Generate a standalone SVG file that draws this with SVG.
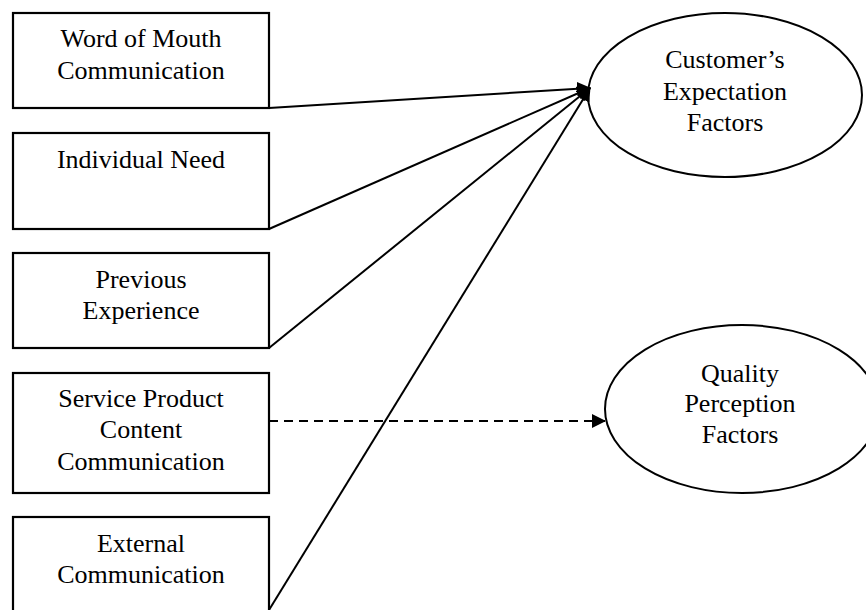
<svg xmlns="http://www.w3.org/2000/svg" width="866" height="610" viewBox="0 0 866 610">
  <style>
    .box { fill: #fff; stroke: #000; stroke-width: 2.2; }
    .oval { fill: #fff; stroke: #000; stroke-width: 2; }
    .lbl { font-family: "Liberation Serif", "Times New Roman", serif; font-size: 26px; fill: #000; text-anchor: middle; }
    .link { fill: none; stroke: #000; stroke-width: 2; }
  </style>
  <defs>
    <marker id="arrow" viewBox="0 0 14 14" refX="13" refY="7" markerWidth="14" markerHeight="14" markerUnits="userSpaceOnUse" orient="auto">
      <path d="M0,0 L14,7 L0,14 Z" fill="#000"/>
    </marker>
  </defs>
  <rect width="866" height="610" fill="#fff"/>

  <g id="node-word-of-mouth">
    <rect class="box" x="13" y="13" width="256" height="95"/>
    <text class="lbl" x="141" y="47">Word of Mouth</text>
    <text class="lbl" x="141" y="79">Communication</text>
  </g>
  <g id="node-individual-need">
    <rect class="box" x="13" y="133" width="256" height="96"/>
    <text class="lbl" x="141" y="168">Individual Need</text>
  </g>
  <g id="node-previous-experience">
    <rect class="box" x="13" y="253" width="256" height="95"/>
    <text class="lbl" x="141" y="288">Previous</text>
    <text class="lbl" x="141" y="319">Experience</text>
  </g>
  <g id="node-service-product">
    <rect class="box" x="13" y="373" width="256" height="120"/>
    <text class="lbl" x="141" y="407">Service Product</text>
    <text class="lbl" x="141" y="438">Content</text>
    <text class="lbl" x="141" y="470">Communication</text>
  </g>
  <g id="node-external">
    <rect class="box" x="13" y="517" width="256" height="100"/>
    <text class="lbl" x="141" y="552">External</text>
    <text class="lbl" x="141" y="583">Communication</text>
  </g>

  <g id="node-expectation">
    <ellipse class="oval" cx="725" cy="95" rx="137" ry="82"/>
    <text class="lbl" x="725" y="68">Customer’s</text>
    <text class="lbl" x="725" y="100">Expectation</text>
    <text class="lbl" x="725" y="131">Factors</text>
  </g>
  <g id="node-quality">
    <ellipse class="oval" cx="742" cy="409" rx="137" ry="84"/>
    <text class="lbl" x="740" y="382">Quality</text>
    <text class="lbl" x="740" y="412">Perception</text>
    <text class="lbl" x="740" y="443">Factors</text>
  </g>

  <g id="connectors">
    <line class="link" x1="269" y1="108" x2="590" y2="88" marker-end="url(#arrow)"/>
    <line class="link" x1="269" y1="229" x2="590" y2="88" marker-end="url(#arrow)"/>
    <line class="link" x1="269" y1="348" x2="590" y2="88" marker-end="url(#arrow)"/>
    <line class="link" x1="269" y1="610" x2="590" y2="88" stroke-width="2.6" marker-end="url(#arrow)"/>
    <line class="link" x1="269" y1="421" x2="605" y2="421" stroke-width="2.6" stroke-dasharray="9 6" marker-end="url(#arrow)"/>
  </g>
</svg>
